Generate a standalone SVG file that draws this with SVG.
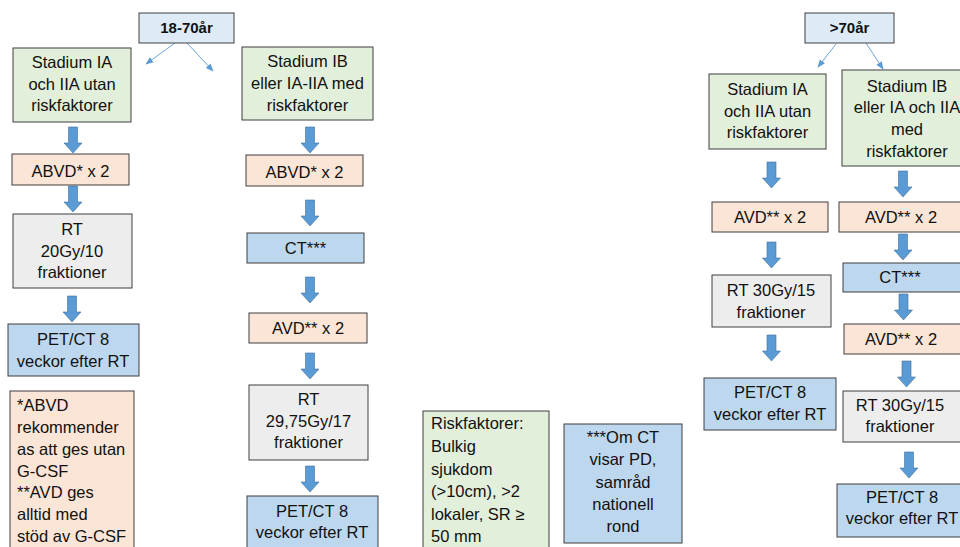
<svg xmlns="http://www.w3.org/2000/svg" width="960" height="547" viewBox="0 0 960 547">
<style>
.g,.s,.gr,.b,.h{stroke:#3f3f3f;stroke-width:1}
.g{fill:#e2efda}.s{fill:#fbe5d6}.gr{fill:#ededed}.b{fill:#bdd7ee}.h{fill:#deebf7}
text{font-family:"Liberation Sans",Arial,sans-serif;font-size:16.5px;fill:#111111}
.c{text-anchor:middle}.bd{font-weight:bold;font-size:15px}
.thin{stroke:#5b9bd5;stroke-width:0.9;fill:none}
.ba{fill:#5b9bd5;stroke:#41719c;stroke-width:0.6}
</style>
<defs>
<marker id="ah" viewBox="0 0 10 10" refX="9" refY="5" markerWidth="8" markerHeight="8" orient="auto" markerUnits="userSpaceOnUse"><path d="M0,1 L10,5 L0,9 Z" fill="#5b9bd5"/></marker>
<path id="barrow" d="M-4.5,0 H4.5 V16 H9 L0,26 L-9,16 H-4.5 Z"/>
</defs>
<rect width="960" height="547" fill="#ffffff"/>
<g id="connectors">
<line class="thin" x1="175" y1="43" x2="146" y2="64" marker-end="url(#ah)"/>
<line class="thin" x1="187" y1="43" x2="213" y2="71" marker-end="url(#ah)"/>
<line class="thin" x1="836" y1="44" x2="818" y2="67" marker-end="url(#ah)"/>
<line class="thin" x1="866" y1="43" x2="883" y2="69" marker-end="url(#ah)"/>
<use href="#barrow" class="ba" x="73" y="127"/>
<use href="#barrow" class="ba" x="73" y="186"/>
<use href="#barrow" class="ba" x="72" y="296"/>
<use href="#barrow" class="ba" x="310" y="127"/>
<use href="#barrow" class="ba" x="310" y="200"/>
<use href="#barrow" class="ba" x="310" y="277"/>
<use href="#barrow" class="ba" x="310" y="353"/>
<use href="#barrow" class="ba" x="310" y="466"/>
<use href="#barrow" class="ba" x="771.5" y="162"/>
<use href="#barrow" class="ba" x="771.5" y="242"/>
<use href="#barrow" class="ba" x="771.5" y="335"/>
<use href="#barrow" class="ba" x="903" y="171"/>
<use href="#barrow" class="ba" x="903" y="234"/>
<use href="#barrow" class="ba" x="903.5" y="294"/>
<use href="#barrow" class="ba" x="906.5" y="361"/>
<use href="#barrow" class="ba" x="909" y="452"/>
</g>
<g id="n-age1"><rect class="h" x="139" y="13" width="95" height="30"/><text class="c bd" x="186.5" y="33">18-70år</text></g>
<g id="n-a1"><rect class="g" x="13" y="48" width="118" height="74"/><text class="c" x="72" y="68">Stadium IA</text><text class="c" x="72" y="90">och IIA utan</text><text class="c" x="72" y="111">riskfaktorer</text></g>
<g id="n-a2"><rect class="s" x="12" y="154" width="117" height="31"/><text class="c" x="70.5" y="177">ABVD* x 2</text></g>
<g id="n-a3"><rect class="gr" x="13" y="214" width="119" height="74"/><text class="c" x="72" y="235">RT</text><text class="c" x="72" y="257">20Gy/10</text><text class="c" x="72" y="278">fraktioner</text></g>
<g id="n-a4"><rect class="b" x="8" y="324" width="131" height="52"/><text class="c" x="73" y="345">PET/CT 8</text><text class="c" x="73" y="367">veckor efter RT</text></g>
<g id="n-note1"><rect class="s" x="10" y="391" width="124" height="170"/>
<text x="17" y="411">*ABVD</text><text x="17" y="433">rekommender</text><text x="17" y="455">as att ges utan</text><text x="17" y="477">G-CSF</text><text x="17" y="498">**AVD ges</text><text x="17" y="520">alltid med</text><text x="17" y="542">stöd av G-CSF</text></g>
<g id="n-b1"><rect class="g" x="242" y="47" width="131" height="73"/><text class="c" x="307.5" y="67">Stadium IB</text><text class="c" x="307.5" y="89">eller IA-IIA med</text><text class="c" x="307.5" y="111">riskfaktorer</text></g>
<g id="n-b2"><rect class="s" x="246" y="155" width="117" height="31"/><text class="c" x="304.5" y="178">ABVD* x 2</text></g>
<g id="n-b3"><rect class="b" x="247" y="233" width="117" height="30"/><text class="c" x="305.5" y="254">CT***</text></g>
<g id="n-b4"><rect class="s" x="249" y="313" width="118" height="30"/><text class="c" x="308" y="334">AVD** x 2</text></g>
<g id="n-b5"><rect class="gr" x="249" y="385" width="119" height="75"/><text class="c" x="308.5" y="405">RT</text><text class="c" x="308.5" y="427">29,75Gy/17</text><text class="c" x="308.5" y="448">fraktioner</text></g>
<g id="n-b6"><rect class="b" x="247" y="496" width="131" height="60"/><text class="c" x="312" y="517">PET/CT 8</text><text class="c" x="312" y="538">veckor efter RT</text></g>
<g id="n-risk"><rect class="g" x="423" y="411" width="126" height="150"/>
<text x="431" y="429">Riskfaktorer:</text><text x="431" y="452">Bulkig</text><text x="431" y="475">sjukdom</text><text x="431" y="497">(&gt;10cm), &gt;2</text><text x="431" y="520">lokaler, SR ≥</text><text x="431" y="542">50 mm</text></g>
<g id="n-ctnote"><rect class="b" x="564" y="424" width="118" height="119"/>
<text class="c" x="623" y="443">***Om CT</text><text class="c" x="623" y="465">visar PD,</text><text class="c" x="623" y="488">samråd</text><text class="c" x="623" y="510">nationell</text><text class="c" x="623" y="532">rond</text></g>
<g id="n-age2"><rect class="h" x="805" y="13" width="89" height="30"/><text class="c bd" x="849.5" y="33">&gt;70år</text></g>
<g id="n-c1"><rect class="g" x="709" y="74" width="117" height="75"/><text class="c" x="767.5" y="95">Stadium IA</text><text class="c" x="767.5" y="117">och IIA utan</text><text class="c" x="767.5" y="138">riskfaktorer</text></g>
<g id="n-c2"><rect class="s" x="712" y="202" width="116" height="30"/><text class="c" x="770" y="223">AVD** x 2</text></g>
<g id="n-c3"><rect class="gr" x="712" y="275" width="119" height="52"/><text class="c" x="771" y="296">RT 30Gy/15</text><text class="c" x="771" y="318">fraktioner</text></g>
<g id="n-c4"><rect class="b" x="704" y="378" width="132" height="52"/><text class="c" x="770" y="398">PET/CT 8</text><text class="c" x="770" y="420">veckor efter RT</text></g>
<g id="n-d1"><rect class="g" x="842" y="70" width="130" height="96"/><text class="c" x="907" y="92">Stadium IB</text><text class="c" x="907" y="113">eller IA och IIA</text><text class="c" x="907" y="135">med</text><text class="c" x="907" y="157">riskfaktorer</text></g>
<g id="n-d2"><rect class="s" x="839" y="202" width="125" height="30"/><text class="c" x="901" y="223">AVD** x 2</text></g>
<g id="n-d3"><rect class="b" x="843" y="263" width="125" height="29"/><text class="c" x="900" y="283">CT***</text></g>
<g id="n-d4"><rect class="s" x="844" y="324" width="125" height="30"/><text class="c" x="901" y="345">AVD** x 2</text></g>
<g id="n-d5"><rect class="gr" x="843" y="391" width="125" height="51"/><text class="c" x="900" y="411">RT 30Gy/15</text><text class="c" x="900" y="432">fraktioner</text></g>
<g id="n-d6"><rect class="b" x="837" y="484" width="130" height="53"/><text class="c" x="902" y="503">PET/CT 8</text><text class="c" x="902" y="524">veckor efter RT</text></g>
</svg>
